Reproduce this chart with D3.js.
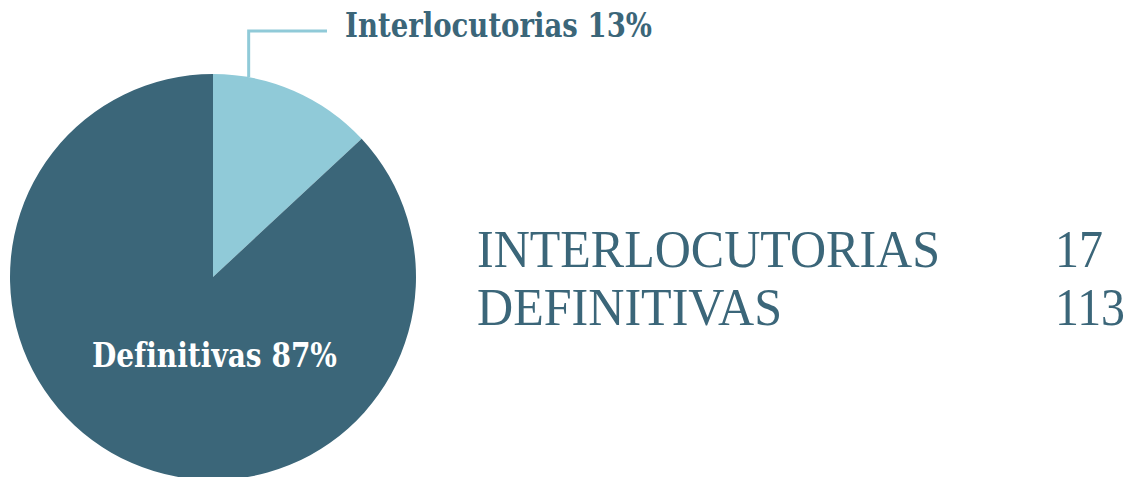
<!DOCTYPE html>
<html lang="es">
<head>
  <meta charset="UTF-8">
  <title>Resoluciones</title>
  <style>
    body { margin: 0; background: #fff; }
    .slice-label { font-family: "DejaVu Serif", serif; font-weight: bold; }
    .legend text { font-family: "Liberation Serif", serif; fill: #3b6679; }
  </style>
</head>
<body>
  <div class="canvas"></div>
  <script src="https://d3js.org/d3.v7.min.js"></script>
  <script>
    const categories = ['Interlocutorias', 'Definitivas'];
    const values = [17, 113];
    const legendNames = ['INTERLOCUTORIAS', 'DEFINITIVAS'];
    const colors = ['#90cad8', '#3b6679'];

    const width = 1133;
    const height = 477;
    const cx = 213, cy = 277, radius = 203;

    const svg = d3.select('.canvas')
      .append('svg')
      .attr('width', width)
      .attr('height', height);

    const total = d3.sum(values);
    const pct = v => Math.round(v / total * 100) + '%';

    const pie = d3.pie().sort(null).value(d => d)(values);
    const arc = d3.arc().innerRadius(0).outerRadius(radius);

    const graph = svg.append('g')
      .attr('transform', `translate(${cx}, ${cy})`);

    graph.selectAll('path')
      .data(pie)
      .enter()
      .append('path')
      .attr('d', arc)
      .attr('fill', (d, i) => colors[i]);

    // leader line for the small slice
    const small = pie[0];
    const mid = (small.startAngle + small.endAngle) / 2;
    const lx = Math.sin(mid * 0.43) * radius;
    const ly = -Math.cos(mid * 0.43) * radius;
    graph.append('polyline')
      .attr('points', `${lx},${ly} ${lx},${-246} ${114},${-246}`)
      .attr('fill', 'none')
      .attr('stroke', colors[0])
      .attr('stroke-width', 3);

    svg.append('text')
      .attr('class', 'slice-label')
      .attr('x', 345)
      .attr('y', 37)
      .attr('font-size', 33)
      .attr('textLength', 307)
      .attr('lengthAdjust', 'spacingAndGlyphs')
      .attr('fill', colors[1])
      .text(`${categories[0]} ${pct(values[0])}`);

    svg.append('text')
      .attr('class', 'slice-label')
      .attr('x', 92)
      .attr('y', 367)
      .attr('font-size', 33)
      .attr('textLength', 245)
      .attr('lengthAdjust', 'spacingAndGlyphs')
      .attr('fill', '#fff')
      .text(`${categories[1]} ${pct(values[1])}`);

    // legend table
    const legend = svg.append('g').attr('class', 'legend');
    const nameWidths = [463, 305];
    const numWidths = [48, 70];
    const rowY = d3.scalePoint().domain(legendNames).range([267, 325]);

    legendNames.forEach((name, i) => {
      legend.append('text')
        .attr('x', 477)
        .attr('y', rowY(name))
        .attr('font-size', 52)
        .attr('textLength', nameWidths[i])
        .attr('lengthAdjust', 'spacingAndGlyphs')
        .text(name);
      legend.append('text')
        .attr('x', 1055)
        .attr('y', rowY(name))
        .attr('font-size', 52)
        .attr('textLength', numWidths[i])
        .attr('lengthAdjust', 'spacingAndGlyphs')
        .text(values[i]);
    });
  </script>
</body>
</html>
